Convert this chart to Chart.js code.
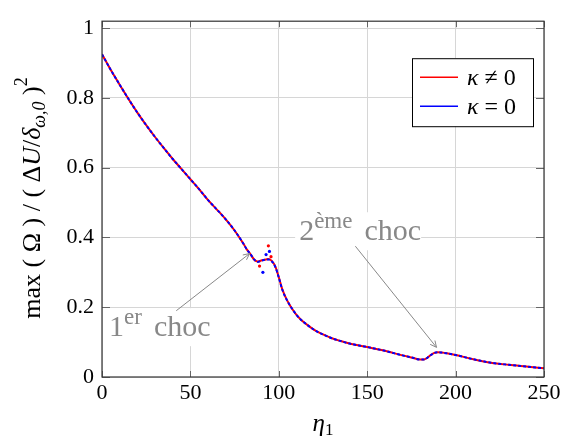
<!DOCTYPE html>
<html>
<head>
<meta charset="utf-8">
<script src="https://cdn.jsdelivr.net/npm/chart.js@4.4.0/dist/chart.umd.min.js"></script>
<style>
  html, body { margin: 0; padding: 0; background: #fff; }
  #wrap { width: 566px; height: 440px; }
</style>
</head>
<body>
<div id="wrap"><canvas id="chart" width="566" height="440"></canvas></div>
<script>
// abscisses (eta_1) et valeurs
const eta = [0, 5, 10, 15, 20, 25, 30, 35, 40, 45, 50, 55, 60, 65, 70, 75, 80, 82, 84, 86, 88, 90, 92, 94, 96, 98,
    100, 102, 104, 106, 108, 110, 113, 117, 121, 125, 130, 135, 140, 150, 160, 170, 175, 180, 182, 184, 186, 188,
    190, 192, 195, 200, 210, 220, 230, 240, 250];
const omegaKappa = [0.925, 0.880, 0.838, 0.797, 0.758, 0.722, 0.688, 0.656, 0.625, 0.596, 0.567, 0.538, 0.507,
    0.480, 0.452, 0.420, 0.382, 0.365, 0.352, 0.337, 0.331, 0.334, 0.336, 0.338, 0.333, 0.317,
    0.286, 0.251, 0.227, 0.208, 0.192, 0.178, 0.162, 0.146, 0.132, 0.122, 0.111, 0.103, 0.096, 0.086, 0.075,
    0.062, 0.056, 0.050, 0.050, 0.055, 0.063, 0.069, 0.071, 0.070, 0.068, 0.063, 0.051, 0.041, 0.035, 0.030, 0.025];
const omegaZero = [0.925, 0.880, 0.838, 0.797, 0.758, 0.722, 0.688, 0.656, 0.625, 0.596, 0.567, 0.538, 0.507,
    0.480, 0.452, 0.420, 0.382, 0.365, 0.352, 0.337, 0.330, 0.333, 0.336, 0.337, 0.332, 0.316,
    0.285, 0.250, 0.226, 0.208, 0.192, 0.178, 0.162, 0.146, 0.132, 0.122, 0.111, 0.103, 0.096, 0.086, 0.075,
    0.062, 0.056, 0.050, 0.050, 0.055, 0.063, 0.069, 0.071, 0.070, 0.068, 0.063, 0.051, 0.041, 0.035, 0.030, 0.025];

// points isoles pres du 1er choc
const strayEtaKappa = [89.1, 94.1, 95.6];
const strayKappa = [0.318, 0.376, 0.345];
const strayEtaZero = [91.0, 92.8, 94.7];
const strayZero = [0.300, 0.351, 0.360];

const seriesLabels = ['κ ≠ 0', 'κ = 0'];
const seriesColors = ['#ff0000', '#0000ff'];
const xTicks = [0, 50, 100, 150, 200, 250];
const yTicks = [0, 0.2, 0.4, 0.6, 0.8, 1];

// annotations (coordonnees dans le repere des donnees)
const noteNum = ['1', '2'];
const noteSup = ['er', 'ème'];
const noteAt = [[4, 0.117], [111.5, 0.392]];
const arrowTail = [[42, 0.19], [143.3, 0.375]];
const arrowHead = [[83.5, 0.354], [189.2, 0.085]];

const serif = '"Liberation Serif", "DejaVu Serif", serif';
function fnt(size, italic) { return (italic ? 'italic ' : '') + size + 'px ' + serif; }

function drawRich(ctx, parts, x, y, align) {
    let w = 0;
    parts.forEach(p => { ctx.font = p.font; w += ctx.measureText(p.t).width; });
    let cx = align === 'center' ? x - w / 2 : x;
    ctx.textAlign = 'left';
    ctx.textBaseline = 'alphabetic';
    parts.forEach(p => {
        ctx.font = p.font;
        ctx.fillText(p.t, cx, y + (p.dy || 0));
        cx += ctx.measureText(p.t).width;
    });
    return w;
}

function arrow(ctx, x1, y1, x2, y2) {
    ctx.beginPath(); ctx.moveTo(x1, y1); ctx.lineTo(x2, y2); ctx.stroke();
    const a = Math.atan2(y2 - y1, x2 - x1), L = 7;
    ctx.beginPath();
    ctx.moveTo(x2 - L * Math.cos(a - 0.45), y2 - L * Math.sin(a - 0.45));
    ctx.lineTo(x2, y2);
    ctx.lineTo(x2 - L * Math.cos(a + 0.45), y2 - L * Math.sin(a + 0.45));
    ctx.stroke();
}

const decorations = {
    id: 'decorations',
    afterDraw(chart) {
        const ctx = chart.ctx, a = chart.chartArea;
        const xs = chart.scales.x, ys = chart.scales.y;
        ctx.save();

        // ticks interieurs
        ctx.strokeStyle = '#666';
        ctx.lineWidth = 1;
        xTicks.forEach(v => {
            const px = Math.round(xs.getPixelForValue(v)) + 0.5;
            ctx.beginPath();
            ctx.moveTo(px, a.bottom); ctx.lineTo(px, a.bottom - 6);
            ctx.moveTo(px, a.top); ctx.lineTo(px, a.top + 6);
            ctx.stroke();
        });
        yTicks.forEach(v => {
            const py = Math.round(ys.getPixelForValue(v)) + 0.5;
            ctx.beginPath();
            ctx.moveTo(a.left, py); ctx.lineTo(a.left + 8, py);
            ctx.moveTo(a.right, py); ctx.lineTo(a.right - 8, py);
            ctx.stroke();
        });

        // cadre
        ctx.strokeStyle = '#333';
        ctx.lineWidth = 1.2;
        ctx.strokeRect(a.left, a.top, a.right - a.left, a.bottom - a.top);

        // annotations
        ctx.strokeStyle = '#888';
        ctx.lineWidth = 1;
        for (let i = 0; i < noteNum.length; i++) {
            const tx = xs.getPixelForValue(noteAt[i][0]);
            const ty = ys.getPixelForValue(noteAt[i][1]);
            ctx.fillStyle = '#fff';
            ctx.fillRect(tx - 4, ty - 28, 126, 38);
            ctx.fillStyle = '#888';
            const w = drawRich(ctx, [
                { t: noteNum[i], font: fnt(30) },
                { t: noteSup[i], font: fnt(23), dy: -12 }
            ], tx, ty, 'left');
            drawRich(ctx, [{ t: 'choc', font: fnt(30) }], tx + w + 12, ty, 'left');
            arrow(ctx, xs.getPixelForValue(arrowTail[i][0]), ys.getPixelForValue(arrowTail[i][1]),
                xs.getPixelForValue(arrowHead[i][0]), ys.getPixelForValue(arrowHead[i][1]));
        }

        // legende
        const lx = a.right - 132, ly = a.top + 37, lw = 121, lh = 68;
        ctx.fillStyle = '#fff';
        ctx.fillRect(lx, ly, lw, lh);
        ctx.strokeStyle = '#000';
        ctx.lineWidth = 1;
        ctx.strokeRect(lx + 0.5, ly + 0.5, lw, lh);
        seriesLabels.forEach((lab, i) => {
            const yy = ly + 19 + i * 29;
            ctx.strokeStyle = seriesColors[i];
            ctx.lineWidth = 1.6;
            ctx.beginPath(); ctx.moveTo(lx + 8, yy); ctx.lineTo(lx + 46, yy); ctx.stroke();
            ctx.fillStyle = '#000';
            drawRich(ctx, [{ t: lab.charAt(0), font: fnt(24, true) }, { t: lab.slice(1), font: fnt(24) }], lx + 55, yy + 8, 'left');
        });

        // titres des axes
        ctx.fillStyle = '#000';
        drawRich(ctx, [{ t: 'η', font: fnt(25, true) }, { t: '1', font: fnt(17), dy: 4 }],
            (a.left + a.right) / 2, 431, 'center');

        ctx.translate(40, 198);
        ctx.rotate(-Math.PI / 2);
        drawRich(ctx, [
            { t: 'max ( Ω ) / ( Δ', font: fnt(26) },
            { t: 'U', font: fnt(26, true) },
            { t: '/', font: fnt(26) },
            { t: 'δ', font: fnt(26, true) },
            { t: 'ω,0', font: fnt(18, true), dy: 5 },
            { t: ' )', font: fnt(26) },
            { t: '2', font: fnt(18), dy: -13 }
        ], 0, 0, 'center');
        ctx.restore();
    }
};

const pts = (xs, ys) => xs.map((x, i) => ({ x: x, y: ys[i] }));

new Chart(document.getElementById('chart'), {
    type: 'line',
    data: {
        datasets: [
            {
                label: seriesLabels[0], data: pts(eta, omegaKappa), borderColor: seriesColors[0],
                borderWidth: 2, pointRadius: 0, cubicInterpolationMode: 'monotone', order: 3
            },
            {
                label: seriesLabels[1], data: pts(eta, omegaZero), borderColor: seriesColors[1],
                borderWidth: 2, borderDash: [3, 2], pointRadius: 0, cubicInterpolationMode: 'monotone', order: 2
            },
            {
                label: 'stray1', data: pts(strayEtaKappa, strayKappa), showLine: false,
                pointRadius: 1.6, pointBackgroundColor: seriesColors[0], pointBorderWidth: 0, order: 1
            },
            {
                label: 'stray0', data: pts(strayEtaZero, strayZero), showLine: false,
                pointRadius: 1.6, pointBackgroundColor: seriesColors[1], pointBorderWidth: 0, order: 1
            }
        ]
    },
    options: {
        responsive: false,
        animation: false,
        layout: { padding: { top: 11, right: 22, left: 0, bottom: 0 } },
        plugins: { legend: { display: false }, tooltip: { enabled: false } },
        scales: {
            x: {
                type: 'linear', min: 0, max: 250,
                afterBuildTicks: s => { s.ticks = xTicks.map(v => ({ value: v })); },
                afterFit: s => { s.height = 63; },
                ticks: { font: { family: serif, size: 22 }, color: '#000', padding: 3, maxRotation: 0 },
                grid: { color: '#d6d6d6', drawTicks: false },
                border: { display: false }
            },
            y: {
                type: 'linear', min: 0, max: 1.02,
                afterBuildTicks: s => { s.ticks = yTicks.map(v => ({ value: v })); },
                afterFit: s => { s.width = 102; },
                ticks: {
                    font: { family: serif, size: 22 }, color: '#000', padding: 8,
                    callback: v => String(+v.toFixed(1))
                },
                grid: { color: '#d6d6d6', drawTicks: false },
                border: { display: false }
            }
        }
    },
    plugins: [decorations]
});
</script>
</body>
</html>
